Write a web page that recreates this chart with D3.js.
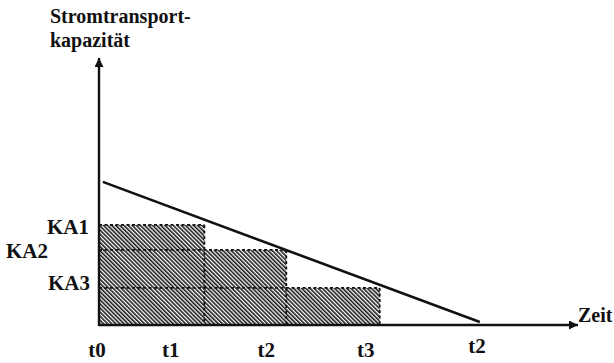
<!DOCTYPE html>
<html>
<head>
<meta charset="utf-8">
<script src="https://cdn.jsdelivr.net/npm/d3@7"></script>
<style>
  html, body { margin: 0; padding: 0; background: #fff; }
  svg text { font-family: "Liberation Serif", "Times New Roman", serif; font-weight: bold; fill: #111; }
</style>
</head>
<body>
<svg id="chart" width="614" height="363"></svg>
<script>
// ---- data (abstract units) ----
const stepNames = ["KA1", "KA2", "KA3"];
const stepEnds = [22, 39.1, 58.6];        // time where each capacity block ends
const stepLevels = [37.5, 28.1, 13.9];    // capacity level of each block
const lineX = [0.8, 79.5];                // declining capacity line (time)
const lineY = [53.6, 1.1];                // declining capacity line (capacity)
const timeLabels = ["t0", "t1", "t2", "t3", "t2"];
const timeLabelPos = [-0.4, 15.0, 34.9, 55.7, 78.9];
const yTitle = ["Stromtransport-", "kapazität"];
const xTitle = "Zeit";

const svg = d3.select("#chart");
const x = d3.scaleLinear().domain([0, 100]).range([99, 578]);
const y = d3.scaleLinear().domain([0, 100]).range([325, 58]);

// hatch pattern
const defs = svg.append("defs");
const pat = defs.append("pattern")
  .attr("id", "hatch").attr("patternUnits", "userSpaceOnUse")
  .attr("width", 2.9).attr("height", 2.9)
  .attr("patternTransform", "rotate(-45)");
pat.append("rect").attr("width", 2.9).attr("height", 2.9).attr("fill", "#fff");
pat.append("rect").attr("x", 0).attr("y", 0).attr("width", 1.6).attr("height", 2.9).attr("fill", "#1a1a1a");

// blocks
const blocks = stepNames.map((n, i) => ({ name: n, end: stepEnds[i], level: stepLevels[i] }));
svg.append("g").selectAll("rect").data(blocks).join("rect")
  .attr("x", x(0)).attr("y", d => y(d.level))
  .attr("width", d => x(d.end) - x(0))
  .attr("height", d => y(0) - y(d.level))
  .attr("fill", "url(#hatch)");

// dashed outlines
const dash = svg.append("g").attr("stroke", "#111").attr("stroke-width", 1.8)
  .attr("stroke-dasharray", "3,2.5").attr("fill", "none");
blocks.forEach(d => {
  dash.append("line").attr("x1", x(0)).attr("x2", x(d.end)).attr("y1", y(d.level)).attr("y2", y(d.level));
  dash.append("line").attr("x1", x(d.end)).attr("x2", x(d.end)).attr("y1", y(d.level)).attr("y2", y(0));
});

// declining line
svg.append("line")
  .attr("x1", x(lineX[0])).attr("y1", y(lineY[0]))
  .attr("x2", x(lineX[1])).attr("y2", y(lineY[1]))
  .attr("stroke", "#111").attr("stroke-width", 2.6);

// axes with arrowheads
defs.append("marker").attr("id", "arrow").attr("viewBox", "0 0 10 10")
  .attr("refX", 10).attr("refY", 5).attr("markerWidth", 11).attr("markerHeight", 9)
  .attr("markerUnits", "userSpaceOnUse").attr("orient", "auto")
  .append("path").attr("d", "M0,0 L10,5 L0,10 Z").attr("fill", "#111");
svg.append("line").attr("x1", x(0)).attr("y1", y(0)).attr("x2", x(100)).attr("y2", y(0))
  .attr("stroke", "#111").attr("stroke-width", 2.4).attr("marker-end", "url(#arrow)");
svg.append("line").attr("x1", x(0)).attr("y1", y(0) + 1).attr("x2", x(0)).attr("y2", y(100))
  .attr("stroke", "#111").attr("stroke-width", 2.4).attr("marker-end", "url(#arrow)");

// y labels
const ylab = [
  { x: 89, anchor: "end", dy: 9 },
  { x: 6, anchor: "start", dy: 8 },
  { x: 90, anchor: "end", dy: 2 }
];
svg.append("g").selectAll("text").data(blocks).join("text")
  .attr("x", (d, i) => ylab[i].x).attr("y", d => y(d.level) + 0)
  .attr("dy", (d, i) => ylab[i].dy)
  .attr("text-anchor", (d, i) => ylab[i].anchor)
  .attr("font-size", 21).text(d => d.name);

// time labels
svg.append("g").selectAll("text").data(timeLabels).join("text")
  .attr("x", (d, i) => x(timeLabelPos[i]))
  .attr("y", (d, i) => i === 4 ? 353 : 357)
  .attr("text-anchor", "middle").attr("font-size", 21).text(d => d);

// titles
svg.append("text").attr("x", 50).attr("y", 23).attr("font-size", 20).text(yTitle[0]);
svg.append("text").attr("x", 50).attr("y", 47).attr("font-size", 20).text(yTitle[1]);
svg.append("text").attr("x", 578).attr("y", 322).attr("font-size", 20).text(xTitle);
</script>
</body>
</html>
